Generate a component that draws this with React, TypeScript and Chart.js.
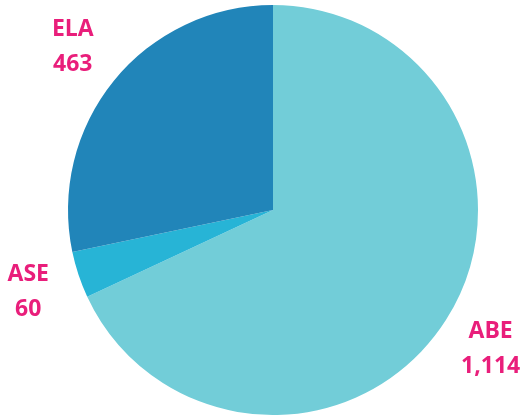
import React, { useEffect, useRef } from "react";
import { Chart, registerables } from "chart.js";

Chart.register(...registerables);

const categories = ["ABE", "ASE", "ELA"];
const values = [1114, 60, 463];
const valueLabels = ["1,114", "60", "463"];
const colors = ["#72CDD8", "#27B4D6", "#2185B9"];

const labelPlugin = {
  id: "outerLabels",
  afterDraw(chart: any) {
    const ctx = chart.ctx;
    const meta = chart.getDatasetMeta(0);
    ctx.save();
    ctx.fillStyle = "#E91E7B";
    ctx.font = "bold 23px 'Open Sans'";
    ctx.textAlign = "center";
    ctx.textBaseline = "middle";
    meta.data.forEach((arc: any, i: number) => {
      const p = arc.getProps(["x", "y", "startAngle", "endAngle", "outerRadius"], true);
      const mid = (p.startAngle + p.endAngle) / 2;
      const r = p.outerRadius + 53;
      const cx = p.x + Math.cos(mid) * r;
      const cy = p.y + Math.sin(mid) * r;
      ctx.fillText(categories[i], cx, cy - 17.5);
      ctx.fillText(valueLabels[i], cx, cy + 17.5);
    });
    ctx.restore();
  },
};

export default function App() {
  const ref = useRef<HTMLCanvasElement>(null);
  useEffect(() => {
    if (!ref.current) return;
    const chart = new Chart(ref.current, {
      type: "pie",
      data: {
        labels: categories,
        datasets: [
          {
            data: values,
            backgroundColor: colors,
            borderWidth: 0,
          },
        ],
      },
      options: {
        animation: false,
        responsive: false,
        layout: { padding: { top: 5, bottom: 0, left: 21, right: 0 } },
        plugins: {
          legend: { display: false },
          tooltip: { enabled: false },
        },
      },
      plugins: [labelPlugin],
    });
    return () => chart.destroy();
  }, []);
  return (
    <div style={{ position: "absolute", left: 0, top: 0, width: 525, height: 415, background: "#fff" }}>
      <canvas ref={ref} width={525} height={415} style={{ width: 525, height: 415 }} />
    </div>
  );
}
